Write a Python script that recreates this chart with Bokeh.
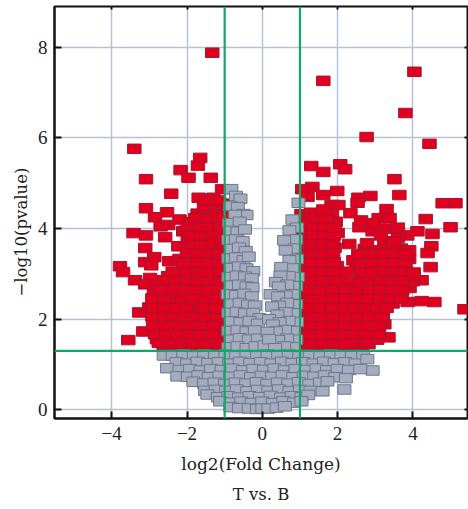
from bokeh.plotting import figure
from bokeh.models import Span, Title, LinearAxis, FixedTicker
from bokeh.embed import file_html
from bokeh.resources import INLINE

# (log2 fold change, -log10 pvalue)
red_left_sparse = [(-1.33,7.88),(-3.40,5.76),(-3.09,5.09),(-2.17,5.29),(-1.96,5.12),(-1.65,5.56),(-1.71,5.39),(-1.37,5.12),
 (-1.07,4.87),(-2.42,4.77),(-1.69,4.68),(-1.3,4.68),(-3.09,4.45),(-2.53,4.36),(-2.85,4.25),(-3.42,3.9),(-3.09,3.85),
 (-2.58,3.81),(-2.23,3.61),(-3.11,3.57),(-2.87,3.37),(-3.11,3.26),(-2.95,3.19),(-2.47,3.28),(-3.78,3.17),(-3.7,3.04),
 (-3.38,2.86),(-2.98,2.91),(-3.11,2.77),(-3.27,2.15),(-3.0,2.26),(-3.16,1.73),(-3.56,1.54),(-2.7,4.05),(-2.5,4.08),
 (-2.1,3.94),(-2.2,4.2),(-1.05,4.55),(-1.45,4.4)]
red_left_mass = [
 (-2.62,1.4),(-2.33,1.38),(-2.04,1.42),(-1.74,1.37),(-1.44,1.39),(-1.15,1.36),
 (-2.8,1.56),(-2.5,1.58),(-2.2,1.54),(-1.9,1.6),(-1.6,1.55),(-1.3,1.59),(-1.04,1.56),
 (-2.72,1.76),(-2.42,1.74),(-2.14,1.79),(-1.84,1.75),(-1.53,1.78),(-1.24,1.74),(-1.02,1.8),
 (-2.88,1.96),(-2.6,1.93),(-2.3,1.98),(-2.0,1.94),(-1.7,1.99),(-1.41,1.95),(-1.1,1.97),
 (-2.83,2.14),(-2.53,2.17),(-2.24,2.13),(-1.94,2.18),(-1.64,2.14),(-1.35,2.16),(-1.04,2.13),
 (-2.9,2.36),(-2.63,2.33),(-2.34,2.38),(-2.05,2.34),(-1.75,2.37),(-1.44,2.33),(-1.13,2.36),
 (-2.88,2.56),(-2.56,2.54),(-2.26,2.58),(-1.96,2.53),(-1.66,2.57),(-1.36,2.54),(-1.05,2.58),
 (-2.8,2.75),(-2.46,2.77),(-2.16,2.73),(-1.86,2.78),(-1.56,2.74),(-1.26,2.77),(-1.02,2.72),
 (-2.5,2.95),(-2.24,2.94),(-1.95,2.97),(-1.65,2.93),(-1.35,2.96),(-1.05,2.98),
 (-2.1,3.14),(-1.8,3.16),(-1.5,3.13),(-1.2,3.17),(-1.0,3.12),
 (-2.2,3.33),(-1.9,3.36),(-1.6,3.34),(-1.3,3.37),(-1.05,3.33),
 (-1.86,3.55),(-1.56,3.57),(-1.26,3.54),(-1.02,3.58),
 (-1.98,3.76),(-1.7,3.74),(-1.4,3.78),(-1.12,3.75),
 (-2.06,3.95),(-1.78,3.96),(-1.5,3.94),(-1.2,3.97),(-1.0,3.93),
 (-1.9,4.14),(-1.62,4.16),(-1.32,4.13),(-1.05,4.17),
 (-1.72,4.33),(-1.24,4.34),(-1.02,4.3),(-1.55,4.5),(-1.25,4.52)]
red_left_extra = [(-2.75,1.48),(-2.45,1.47),(-2.15,1.47),(-1.85,1.48),(-1.5,1.47),(-1.2,1.47),(-2.85,1.67),(-2.55,1.66),(-2.25,1.67),(-1.95,1.68),
 (-1.65,1.66),(-1.35,1.67),(-2.9,1.86),(-2.55,1.85),(-2.2,1.87),(-1.9,1.86),(-1.6,1.87),(-1.3,1.86),(-2.92,2.06),(-2.62,2.05),(-2.38,2.06),(-2.1,2.05),
 (-1.8,2.06),(-1.5,2.05),(-1.2,2.06),(-2.9,2.25),(-2.6,2.26),(-2.3,2.25),(-2.0,2.26),(-1.55,2.25),(-1.25,2.26),(-2.92,2.46),(-2.6,2.45),(-2.12,2.46),
 (-1.85,2.45),(-1.52,2.46),(-1.22,2.45),(-2.7,2.65),(-2.35,2.66),(-2.05,2.65),(-1.75,2.66),(-1.45,2.65),(-1.15,2.66),(-2.62,2.86),(-2.3,2.85),(-2.0,2.86),
 (-1.72,2.85),(-1.42,2.86),(-1.12,2.85),(-2.38,3.05),(-1.98,3.05),(-1.68,3.04),(-1.38,3.05),(-1.1,3.04),(-2.1,3.24),(-1.72,3.25),(-1.42,3.24),(-1.15,3.25),
 (-2.0,3.46),(-1.72,3.45),(-1.42,3.46),(-1.15,3.45),(-1.9,3.66),(-1.62,3.65),(-1.32,3.66),(-1.05,3.66),(-1.9,3.85),(-1.62,3.85),(-1.32,3.86),(-1.05,3.85),
 (-1.98,4.05),(-1.65,4.04),(-1.38,4.05),(-1.12,4.05),(-1.48,4.22),(-1.78,4.23),(-1.18,4.24),(-1.52,4.62),(-1.15,4.62)]
red_right_sparse = [(1.62,7.26),(4.04,7.46),(3.8,6.55),(2.77,6.02),(4.44,5.87),(1.3,5.38),(1.62,5.25),(2.07,5.42),(2.2,5.31),
 (3.51,5.09),(1.33,4.92),(1.06,4.87),(1.2,4.7),(1.62,4.74),(1.99,4.83),(2.87,4.72),(2.55,4.68),(2.53,4.57),(3.64,4.74),
 (4.79,4.56),(5.13,4.56),(1.84,4.52),(2.02,4.52),(2.34,4.34),(3.3,4.43),(3.09,4.23),(3.38,4.23),(4.34,4.21),(1.04,4.32),
 (1.57,4.28),(5.0,4.03),(4.52,3.88),(4.49,3.61),(4.39,3.46),(4.47,3.15),(2.31,3.66),(2.58,4.03),(2.93,3.94),(3.24,3.72),
 (4.12,3.94),(4.23,2.86),(3.91,2.69),(4.57,2.38),(4.23,2.4),(3.86,2.38),(5.37,2.22),(3.35,1.6),(3.24,1.89),
 (3.3,4.0),(3.6,4.02),(3.85,3.85),(3.6,3.8),(1.95,4.15)]
red_right_mass = [
 (1.15,1.38),(1.45,1.4),(1.75,1.37),(2.05,1.41),(2.35,1.38),(2.65,1.4),(2.82,1.45),
 (1.08,1.57),(1.38,1.59),(1.68,1.55),(1.98,1.6),(2.28,1.56),(2.58,1.59),(2.88,1.6),(3.05,1.55),
 (1.18,1.76),(1.48,1.79),(1.78,1.74),(2.08,1.77),(2.38,1.79),(2.68,1.74),(2.96,1.78),
 (1.06,1.96),(1.36,1.94),(1.66,1.98),(1.96,1.93),(2.26,1.97),(2.56,1.94),(2.86,1.98),(3.12,1.94),
 (1.2,2.15),(1.5,2.13),(1.8,2.17),(2.1,2.14),(2.4,2.18),(2.7,2.13),(3.0,2.17),(3.2,2.12),
 (1.08,2.34),(1.38,2.37),(1.68,2.33),(1.98,2.38),(2.28,2.34),(2.58,2.36),(2.88,2.33),(3.18,2.37),(3.46,2.35),
 (1.2,2.55),(1.5,2.53),(1.8,2.57),(2.1,2.54),(2.4,2.58),(2.7,2.53),(3.0,2.56),(3.3,2.55),(3.6,2.52),
 (1.06,2.74),(1.36,2.77),(1.66,2.73),(1.96,2.76),(2.9,2.75),(3.2,2.78),(3.5,2.73),(3.8,2.76),(4.0,2.84),
 (1.2,2.95),(1.5,2.93),(1.8,2.97),(2.12,2.94),(2.3,2.82),(2.65,2.96),(3.0,2.94),(3.3,2.97),(3.6,2.93),(3.92,2.95),
 (1.08,3.14),(1.38,3.16),(1.68,3.13),(1.98,3.17),(2.5,3.15),(2.8,3.13),(3.1,3.17),(3.4,3.14),(3.7,3.16),
 (1.2,3.34),(1.5,3.36),(1.8,3.33),(2.42,3.3),(2.72,3.35),(3.02,3.33),(3.32,3.37),(3.62,3.34),(3.9,3.33),
 (1.08,3.55),(1.38,3.57),(1.68,3.54),(1.92,3.58),(2.72,3.55),(3.05,3.52),(3.36,3.55),(3.68,3.56),(3.9,3.52),
 (1.2,3.75),(1.5,3.77),(1.8,3.74),(2.0,3.9),(1.08,3.95),(1.4,3.97),(1.7,3.95),(1.22,4.15),(1.52,4.13),(1.3,4.35),(1.85,4.33),
 (3.5,3.6),(3.15,3.85),(2.62,4.18),(2.95,4.12)]
red_right_extra = [(1.3,1.47),(1.6,1.47),(1.9,1.48),(2.2,1.47),(2.5,1.48),(2.75,1.5),(1.25,1.67),(1.55,1.66),(1.85,1.67),(2.15,1.67),(2.45,1.66),(2.75,1.67),
 (3.1,1.68),(1.3,1.86),(1.6,1.86),(1.9,1.85),(2.2,1.87),(2.5,1.86),(2.8,1.85),(3.08,1.85),(1.3,2.05),(1.6,2.05),(1.9,2.06),(2.22,2.05),(2.55,2.05),(2.85,2.06),
 (3.15,2.05),(1.25,2.25),(1.55,2.25),(1.85,2.26),(2.15,2.25),(2.45,2.26),(2.75,2.25),(3.05,2.26),(3.3,2.25),(1.3,2.45),(1.62,2.45),(1.92,2.46),(2.22,2.45),
 (2.52,2.46),(2.82,2.45),(3.12,2.46),(3.42,2.45),(3.7,2.46),(1.25,2.65),(1.55,2.65),(1.85,2.66),(2.22,2.66),(2.55,2.65),(2.85,2.66),(3.15,2.65),(3.45,2.66),
 (3.72,2.65),(1.3,2.85),(1.62,2.85),(1.95,2.85),(2.62,2.82),(2.82,2.85),(3.12,2.86),(3.42,2.85),(3.72,2.85),(1.3,3.05),(1.6,3.05),(1.9,3.05),(2.25,3.05),
 (2.62,3.05),(2.92,3.04),(3.25,3.05),(3.52,3.06),(3.82,3.05),(4.02,3.03),(1.3,3.25),(1.62,3.25),(1.9,3.26),(2.62,3.24),(2.92,3.25),(3.22,3.25),(3.52,3.25),
 (3.8,3.25),(1.32,3.46),(1.6,3.45),(1.88,3.46),(2.55,3.44),(2.88,3.45),(3.2,3.45),(3.52,3.46),(3.78,3.44),(1.3,3.66),(1.6,3.66),(1.88,3.66),(2.78,3.68),(3.5,3.72),
 (1.35,3.86),(1.65,3.86),(1.9,3.85),(1.35,4.05),(1.65,4.05),(1.92,4.02),(1.4,4.23),(1.7,4.22),(1.62,4.42)]
grey_wings = [
 (-0.82,4.87),(-0.7,4.72),(-0.58,4.66),(-0.85,4.5),(-0.65,4.47),(-0.5,4.32),(-0.42,4.3),(-0.72,4.3),(-0.88,4.12),(-0.6,4.15),
 (-0.86,3.95),(-0.66,3.93),(-0.46,3.98),(-0.9,3.75),(-0.7,3.76),(-0.52,3.72),(-0.82,3.55),(-0.62,3.58),(-0.44,3.5),
 (-0.9,3.34),(-0.7,3.36),(-0.5,3.3),(-0.36,3.38),(-0.84,3.13),(-0.62,3.16),(-0.42,3.12),(-0.24,3.06),(-0.9,2.93),(-0.68,2.96),
 (-0.46,2.94),(-0.28,2.9),(-0.84,2.74),(-0.62,2.76),(-0.42,2.72),(-0.26,2.7),(-0.92,2.55),(-0.7,2.53),(-0.48,2.56),(-0.28,2.5),
 (-0.84,2.34),(-0.6,2.36),(-0.38,2.32),(-0.2,2.3),(-0.9,2.14),(-0.68,2.16),(-0.46,2.13),(-0.24,2.14),(-0.08,2.02),
 (-0.82,1.95),(-0.58,1.93),(-0.34,1.96),(-0.12,1.9),(-0.9,1.74),(-0.66,1.76),(-0.42,1.73),(-0.2,1.75),
 (-0.84,1.55),(-0.6,1.58),(-0.36,1.55),(-0.12,1.57),(-0.9,1.38),(-0.66,1.4),(-0.42,1.36),(-0.18,1.4),(0.06,1.42),
 (0.96,4.57),(0.8,4.2),(0.92,4.02),(0.72,3.96),(0.9,3.76),(0.58,3.74),(0.86,3.56),(0.62,3.52),(0.92,3.33),(0.72,3.3),
 (0.8,3.12),(0.5,3.15),(0.94,2.93),(0.7,2.95),(0.48,2.96),(0.36,2.82),(0.9,2.73),(0.66,2.76),(0.44,2.72),(0.22,2.55),
 (0.84,2.55),(0.62,2.52),(0.42,2.5),(0.9,2.33),(0.66,2.36),(0.44,2.3),(0.26,2.28),(0.86,2.13),(0.62,2.15),(0.4,2.1),
 (0.18,2.0),(0.92,1.94),(0.7,1.96),(0.46,1.93),(0.28,1.88),(0.84,1.74),(0.6,1.76),(0.36,1.73),(0.14,1.72),
 (0.9,1.55),(0.66,1.57),(0.42,1.54),(0.18,1.56),(0.82,1.38),(0.58,1.4),(0.34,1.36)]
grey_bottom = [
 (-2.62,1.2),(-2.38,1.2),(-2.1,1.22),(-1.82,1.18),(-1.54,1.22),(-1.26,1.19),(-0.98,1.22),(-0.7,1.18),(-0.42,1.21),(-0.14,1.18),(0.14,1.22),
 (0.42,1.19),(0.7,1.22),(0.98,1.18),(1.26,1.21),(1.54,1.18),(1.82,1.22),(2.1,1.19),(2.38,1.2),(2.68,1.19),
 (-2.28,1.05),(-2.0,1.02),(-1.72,1.06),(-1.44,1.03),(-1.16,1.05),(-0.88,1.02),(-0.6,1.06),(-0.32,1.03),(-0.04,1.05),(0.24,1.02),
 (0.52,1.06),(0.8,1.03),(1.08,1.05),(1.36,1.02),(1.64,1.06),(1.92,1.03),(2.2,1.05),(2.48,1.02),(2.79,1.12),(2.93,0.87),
 (-2.53,0.92),(-2.2,0.88),(-1.92,0.9),(-1.64,0.87),(-1.36,0.9),(-1.08,0.88),(-0.8,0.91),(-0.52,0.87),(-0.24,0.9),(0.04,0.88),
 (0.32,0.91),(0.6,0.87),(0.88,0.9),(1.16,0.88),(1.44,0.91),(1.72,0.87),(2.0,0.9),(2.3,0.88),(2.6,0.9),
 (-2.26,0.74),(-1.98,0.73),(-1.7,0.76),(-1.42,0.72),(-1.14,0.75),(-0.86,0.73),(-0.58,0.76),(-0.3,0.72),(-0.02,0.75),(0.26,0.73),
 (0.54,0.76),(0.82,0.72),(1.1,0.75),(1.38,0.73),(1.66,0.76),(1.94,0.72),(2.22,0.7),
 (-1.83,0.62),(-1.55,0.58),(-1.27,0.6),(-0.99,0.57),(-0.71,0.6),(-0.43,0.58),(-0.15,0.61),(0.13,0.57),(0.41,0.6),(0.69,0.58),
 (0.97,0.61),(1.25,0.57),(1.53,0.6),(1.73,0.63),(2.18,0.45),
 (-1.52,0.42),(-1.24,0.44),(-0.96,0.42),(-0.68,0.45),(-0.4,0.41),(-0.12,0.44),(0.16,0.42),(0.44,0.45),(0.72,0.41),(1.0,0.44),(1.28,0.42),(1.6,0.41),
 (-1.46,0.34),(-1.18,0.28),(-0.9,0.3),(-0.62,0.27),(-0.34,0.3),(-0.06,0.28),(0.22,0.31),(0.5,0.27),(0.78,0.3),(1.04,0.28),(1.22,0.33),
 (-1.12,0.19),(-0.82,0.16),(-0.56,0.18),(-0.28,0.15),(0.0,0.18),(0.28,0.15),(0.56,0.19),(0.84,0.16),(1.04,0.19),
 (-0.85,0.06),(-0.62,0.04),(-0.36,0.03),(-0.14,0.02),(0.0,0.03),(0.16,0.03),(0.38,0.05),(0.6,0.08)]
x_ticks = [-4, -2, 0, 2, 4]
y_ticks = [0, 2, 4, 6, 8]
x_tick_labels = {-4: "\u22124", -2: "\u22122", 0: "0", 2: "2", 4: "4"}
x_threshold = [-1, 1]
y_threshold = 1.3

SERIF = "Liberation Serif"
p = figure(width=468, height=509, x_range=(-5.52, 5.45), y_range=(-0.19, 8.9),
           output_backend="svg", toolbar_location=None, background_fill_color="white",
           min_border_left=54, min_border_right=1, min_border_top=6, min_border_bottom=2)
p.outline_line_color = "#111111"
p.outline_line_width = 2
for g, t in ((p.xgrid, x_ticks), (p.ygrid, y_ticks)):
    g.ticker = FixedTicker(ticks=t)
    g.grid_line_color = "#b5c0d9"
    g.grid_line_width = 1.5

red = red_left_sparse + red_left_mass + red_left_extra + red_right_sparse + red_right_mass + red_right_extra
grey = grey_wings + grey_bottom
p.rect([a for a, _ in red], [b for _, b in red], width=13.5, height=9.5, width_units="screen", height_units="screen",
       fill_color="#e0001f", line_color="#a81530", line_width=1)
p.rect([a for a, _ in grey], [b for _, b in grey], width=13, height=9.5, width_units="screen", height_units="screen",
       fill_color="#a4adc0", line_color="#6d7688", line_width=1)

for v in x_threshold:
    p.add_layout(Span(location=v, dimension="height", line_color="#12a769", line_width=2.2))
p.add_layout(Span(location=y_threshold, dimension="width", line_color="#12a769", line_width=2.2))

for ax, t in ((p.xaxis[0], x_ticks), (p.yaxis[0], y_ticks)):
    ax.ticker = FixedTicker(ticks=t)
    ax.axis_line_color = "#111111"
    ax.axis_line_width = 2
    ax.major_tick_line_color = "#111111"
    ax.major_tick_line_width = 2
    ax.major_tick_in = 7
    ax.major_tick_out = 0
    ax.minor_tick_line_color = None
    ax.major_label_text_font = SERIF
    ax.major_label_text_font_size = "19px"
    ax.major_label_text_color = "#222222"
    ax.axis_label_text_font = "DejaVu Serif"
    ax.axis_label_text_font_style = "normal"
    ax.axis_label_text_font_size = "17px"
    ax.axis_label_text_color = "#222222"
p.xaxis[0].major_label_overrides = x_tick_labels
p.yaxis[0].major_label_overrides = {v: str(v) for v in y_ticks}
p.xaxis[0].axis_label = "log2(Fold Change)"
p.xaxis[0].major_label_standoff = 8
p.yaxis[0].major_label_standoff = 7
p.xaxis[0].axis_label_standoff = 11

p.add_layout(Title(text="\u2212log10(pvalue)", align="left", offset=122, text_font="DejaVu Serif", text_font_size="16.5px",
                   text_font_style="normal", text_color="#222222", standoff=8), "left")

p.add_layout(Title(text="T vs. B", align="center", text_font="DejaVu Serif", text_font_size="16.5px",
                   text_font_style="normal", text_color="#222222", standoff=12), "below")

# the small ticks along the top and right edges of the frame
for side, t in (("right", y_ticks), ("above", x_ticks)):
    edge = LinearAxis(ticker=FixedTicker(ticks=t), axis_line_color=None, major_tick_line_color="#111111",
                      major_tick_line_width=2, major_tick_in=3, major_tick_out=0, minor_tick_line_color=None,
                      major_label_overrides={v: "" for v in t}, major_label_standoff=0,
                      major_label_text_font_size="1px", axis_label=None)
    p.add_layout(edge, side)

open("out.html", "w").write(file_html(p, INLINE))
